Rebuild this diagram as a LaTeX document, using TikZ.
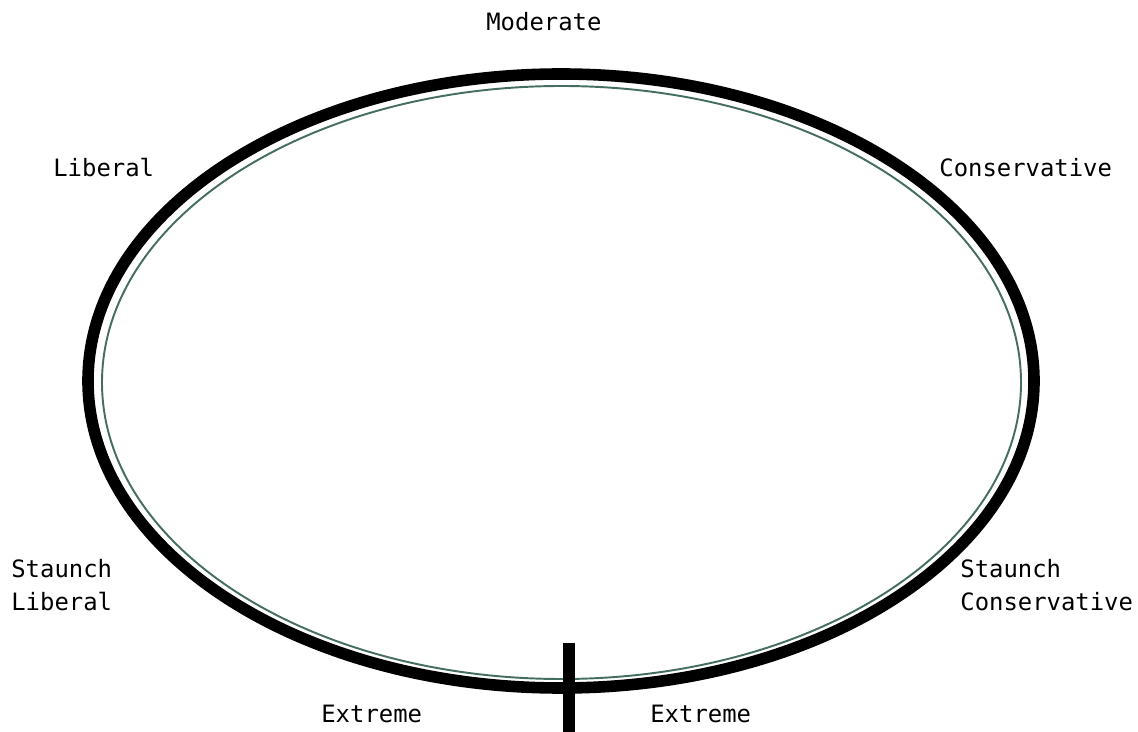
\documentclass[tikz,border=0pt]{standalone}
\usepackage{fontspec}
\setmonofont{DejaVu Sans Mono}
\usepackage{xcolor}
\usepackage{tikz}
\usetikzlibrary{positioning}
\definecolor{ringgreen}{RGB}{70, 110, 95}
\tikzset{
  outerring/.style = {draw=black, line width=6.6pt},
  innerring/.style = {draw=ringgreen, line width=1.1pt},
  scalelbl/.style  = {anchor=west, inner sep=0pt, align=left,
    font=\ttfamily\fontsize{13.6}{18.8}\selectfont},
  marker/.style    = {draw=black, line width=6.8pt},
}

\begin{document}
\begin{tikzpicture}[x=0.02cm, y=-0.02cm]
  \useasboundingbox (0,0) rectangle (1138,732);

  % spectrum ring
  \draw[outerring] (561,381) ellipse [x radius=473, y radius=307];
  \draw[innerring] (561.5,382.5) ellipse [x radius=459.5, y radius=296.5];

  % position labels
  \node[scalelbl] (moderate)  at (486,22)  {Moderate};
  \node[scalelbl] (liberal)   at (53,168)  {Liberal};
  \node[scalelbl] (conserv)   at (939,168) {Conservative};
  \node[scalelbl] (stlib)     at (11,585)  {Staunch\\Liberal};
  \node[scalelbl] (stcon)     at (960,585) {Staunch\\Conservative};
  \node[scalelbl] (extleft)   at (321,714) {Extreme};
  \node[scalelbl] (extright)  at (650,714) {Extreme};

  % break in the ring
  \coordinate (breaktop) at (569,643);
  \coordinate (breakbot) at (569,732);
  \draw[marker] (breaktop) -- (breakbot);

\end{tikzpicture}
\end{document}
